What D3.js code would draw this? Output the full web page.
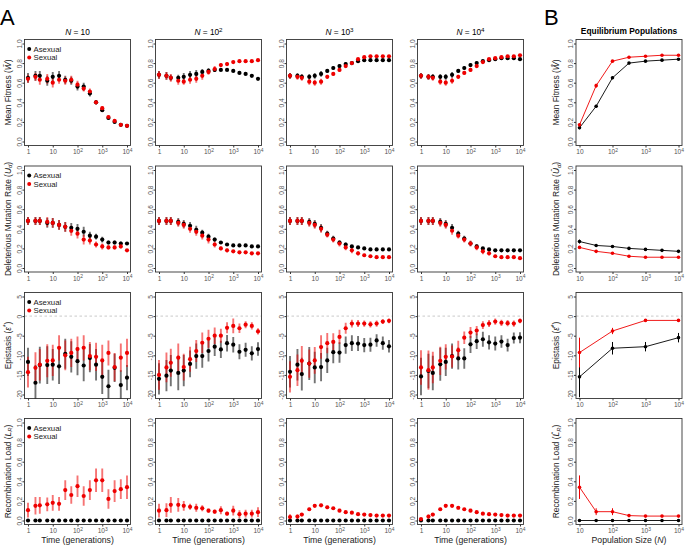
<!DOCTYPE html>
<html><head><meta charset="utf-8">
<script src="https://cdn.jsdelivr.net/npm/d3@7"></script>
<style>body{margin:0;background:#fff}svg{display:block}text{font-family:"Liberation Sans",Arial,Helvetica,sans-serif}</style>
</head><body><svg id="c" width="687" height="546"></svg>
<script>
// ---------- DATA ----------
const times = [1,2,3,6,10,18,32,56,100,178,316,562,1000,1778,3162,5623,10000];
const popSizes = [10,32,100,316,1000,3162,10000];
const popSizesEpi = [10,100,1000,10000];
const panelTitles = ["10","10^2","10^3","10^4"];
const timeTicks = [1,10,100,1000,10000];
const popTicks = [10,100,1000,10000];
const unitTicks = [0,0.2,0.4,0.6,0.8,1.0];
const epiTicks = [-20,-15,-10,-5,0,5];

// Mean fitness
const fitAsexual = [
 [0.65,0.67,0.67,0.62,0.66,0.67,0.63,0.62,0.56,0.56,0.49,0.40,0.32,0.24,0.20,0.17,0.16],
 [0.68,0.67,0.65,0.65,0.66,0.68,0.69,0.71,0.72,0.73,0.73,0.73,0.72,0.70,0.69,0.67,0.64],
 [0.67,0.67,0.66,0.66,0.67,0.69,0.72,0.75,0.77,0.79,0.80,0.82,0.83,0.83,0.83,0.83,0.83],
 [0.67,0.66,0.66,0.66,0.66,0.68,0.72,0.75,0.78,0.80,0.82,0.83,0.84,0.85,0.85,0.85,0.84]];
const fitSexual = [
 [0.64,0.66,0.63,0.64,0.60,0.63,0.62,0.63,0.58,0.54,0.51,0.40,0.34,0.25,0.21,0.17,0.16],
 [0.68,0.67,0.65,0.62,0.61,0.63,0.64,0.67,0.71,0.74,0.78,0.79,0.81,0.82,0.82,0.82,0.83],
 [0.67,0.66,0.65,0.61,0.60,0.61,0.66,0.69,0.73,0.77,0.80,0.84,0.86,0.87,0.87,0.87,0.87],
 [0.67,0.66,0.65,0.61,0.60,0.62,0.66,0.70,0.73,0.77,0.81,0.84,0.85,0.86,0.87,0.87,0.88]];
const fitAsexualErr = [
 [0.05,0.05,0.05,0.05,0.05,0.05,0.04,0.04,0.04,0.04,0.03,0.02,0.02,0.02,0.015,0.01,0.01],
 [0.04,0.04,0.03,0.03,0.04,0.04,0.04,0.03,0.03,0.02,0.01,0.01,0.01,0.01,0.01,0.01,0.01],
 [0.03,0.03,0.03,0.03,0.03,0.03,0.02,0.02,0.02,0.02,0.015,0.01,0.01,0.01,0.01,0.01,0.01],
 [0.03,0.03,0.03,0.03,0.03,0.03,0.02,0.02,0.02,0.02,0.015,0.01,0.01,0.01,0.01,0.01,0.01]];
const fitSexualErr = [
 [0.04,0.04,0.05,0.05,0.05,0.04,0.04,0.04,0.04,0.03,0.03,0.02,0.02,0.02,0.015,0.01,0.01],
 [0.04,0.04,0.04,0.04,0.03,0.04,0.04,0.04,0.03,0.03,0.02,0.02,0.01,0.01,0.01,0.01,0.01],
 [0.03,0.03,0.03,0.03,0.03,0.03,0.02,0.02,0.02,0.02,0.015,0.01,0.01,0.01,0.01,0.01,0.01],
 [0.03,0.03,0.03,0.03,0.03,0.03,0.02,0.02,0.02,0.02,0.015,0.01,0.01,0.01,0.01,0.01,0.01]];

// Deleterious mutation rate
const mutAsexual = [
 [0.48,0.48,0.48,0.46,0.46,0.44,0.42,0.41,0.40,0.37,0.33,0.32,0.29,0.26,0.26,0.25,0.25],
 [0.48,0.48,0.48,0.47,0.45,0.43,0.39,0.36,0.32,0.29,0.26,0.24,0.23,0.23,0.23,0.22,0.22],
 [0.48,0.48,0.48,0.47,0.45,0.41,0.35,0.30,0.26,0.24,0.22,0.21,0.20,0.19,0.19,0.19,0.19],
 [0.48,0.48,0.48,0.47,0.45,0.41,0.35,0.30,0.25,0.22,0.20,0.19,0.18,0.18,0.18,0.18,0.18]];
const mutSexual = [
 [0.48,0.48,0.48,0.47,0.46,0.44,0.42,0.38,0.35,0.29,0.28,0.24,0.22,0.21,0.21,0.22,0.18],
 [0.48,0.48,0.48,0.46,0.44,0.40,0.37,0.33,0.29,0.24,0.20,0.18,0.17,0.16,0.16,0.15,0.15],
 [0.48,0.48,0.48,0.46,0.44,0.40,0.34,0.29,0.25,0.21,0.18,0.15,0.13,0.12,0.11,0.11,0.11],
 [0.48,0.48,0.48,0.46,0.44,0.38,0.33,0.29,0.25,0.21,0.17,0.15,0.12,0.11,0.11,0.11,0.10]];
const mutAsexualErr = [
 [0.04,0.04,0.04,0.05,0.05,0.05,0.05,0.05,0.05,0.05,0.04,0.03,0.03,0.02,0.02,0.02,0.01],
 [0.04,0.04,0.04,0.04,0.04,0.04,0.04,0.03,0.03,0.02,0.015,0.01,0.01,0.01,0.01,0.01,0.01],
 [0.04,0.04,0.04,0.04,0.04,0.04,0.03,0.03,0.02,0.02,0.015,0.01,0.01,0.01,0.01,0.01,0.01],
 [0.04,0.04,0.04,0.04,0.04,0.04,0.03,0.03,0.02,0.02,0.015,0.01,0.01,0.01,0.01,0.01,0.01]];
const mutSexualErr = [
 [0.04,0.04,0.04,0.05,0.05,0.05,0.05,0.05,0.05,0.05,0.04,0.03,0.03,0.02,0.02,0.02,0.01],
 [0.04,0.04,0.04,0.04,0.04,0.04,0.04,0.04,0.04,0.03,0.02,0.02,0.01,0.01,0.01,0.01,0.01],
 [0.04,0.04,0.04,0.04,0.04,0.04,0.03,0.03,0.03,0.03,0.03,0.02,0.015,0.01,0.01,0.01,0.01],
 [0.04,0.04,0.04,0.04,0.04,0.04,0.03,0.03,0.03,0.03,0.03,0.02,0.015,0.01,0.01,0.01,0.01]];

// Epistasis
const epiAsexual = [
 [-11.7,-17.0,-12.5,-12.5,-12.4,-12.8,-9.6,-10.4,-11.5,-12.6,-10.7,-12.4,-15.5,-17.9,-13.2,-17.6,-15.7],
 [-16.0,-15.2,-13.9,-14.5,-13.9,-12.2,-10.2,-10.2,-8.9,-7.8,-8.5,-6.9,-7.3,-9.1,-8.6,-9.5,-8.4],
 [-14.2,-12.4,-14.8,-12.1,-13.1,-13.0,-11.3,-9.2,-9.3,-7.4,-6.9,-7.0,-7.4,-7.3,-6.2,-6.9,-7.7],
 [-15.4,-14.0,-14.5,-12.3,-11.7,-10.2,-10.8,-10.8,-7.2,-6.4,-5.9,-6.7,-7.0,-6.5,-7.4,-5.6,-5.5]];
const epiSexual = [
 [-14.3,-13.2,-12.4,-11.4,-11.3,-8.1,-10.0,-9.4,-8.4,-8.1,-10.2,-10.4,-11.3,-9.4,-13.0,-10.6,-9.4],
 [-15.0,-13.1,-11.9,-10.6,-13.0,-11.0,-8.9,-6.8,-5.8,-5.0,-5.0,-3.0,-2.5,-3.1,-2.2,-2.5,-3.9],
 [-15.5,-13.8,-11.4,-12.1,-11.3,-7.9,-6.9,-6.6,-5.3,-3.1,-1.9,-1.9,-1.9,-2.1,-1.9,-1.4,-1.2],
 [-13.1,-13.8,-13.1,-11.4,-10.4,-10.3,-8.7,-5.5,-4.2,-3.7,-2.3,-1.9,-1.4,-1.7,-1.8,-1.9,-1.2]];
const epiAsexualErr = [
 [3.6,4.5,4.7,4.8,4.0,4.5,3.8,4.0,3.6,4.0,3.6,4.0,4.4,4.2,3.6,3.8,3.2],
 [4.0,4.0,4.0,4.4,4.0,3.4,3.2,3.0,2.7,2.4,2.2,2.1,2.0,1.9,1.8,1.8,1.7],
 [4.0,4.0,4.2,4.2,4.0,3.6,3.2,2.8,2.6,2.2,2.0,1.9,1.8,1.8,1.6,1.7,1.6],
 [4.8,4.4,4.4,4.2,3.6,3.2,2.8,2.6,2.2,2.0,1.9,1.8,1.8,1.6,1.6,1.4,1.4]];
const epiSexualErr = [
 [3.9,4.0,4.0,4.2,4.0,3.2,3.8,3.6,3.2,3.2,3.6,3.6,4.0,3.2,3.6,3.6,3.6],
 [3.8,3.8,3.6,3.6,3.4,3.2,2.8,2.6,2.3,2.1,1.8,1.4,1.9,1.2,0.9,0.9,0.8],
 [4.0,4.0,3.8,3.6,3.4,3.0,2.6,2.2,1.8,1.4,1.0,0.9,0.8,0.8,0.8,0.6,0.6],
 [4.4,5.0,4.0,3.6,3.2,2.8,2.4,1.6,1.4,1.2,1.0,0.9,0.8,0.8,0.8,0.8,0.6]];

// Recombination load
const recAsexual = [
 [0,0,0,0,0,0,0,0,0,0,0,0,0,0,0,0,0],
 [0,0,0,0,0,0,0,0,0,0,0,0,0,0,0,0,0],
 [0,0,0,0,0,0,0,0,0,0,0,0,0,0,0,0,0],
 [0,0,0,0,0,0,0,0,0,0,0,0,0,0,0,0,0]];
const recSexual = [
 [0.105,0.15,0.155,0.165,0.18,0.17,0.31,0.26,0.35,0.25,0.31,0.41,0.41,0.22,0.30,0.32,0.34],
 [0.10,0.105,0.16,0.16,0.15,0.14,0.13,0.125,0.10,0.09,0.105,0.07,0.10,0.065,0.07,0.07,0.085],
 [0.035,0.04,0.06,0.115,0.15,0.155,0.135,0.125,0.10,0.085,0.08,0.065,0.06,0.055,0.05,0.05,0.05],
 [0.015,0.04,0.06,0.115,0.15,0.15,0.13,0.115,0.10,0.085,0.07,0.065,0.06,0.055,0.05,0.05,0.05]];
const recSexualErr = [
 [0.075,0.09,0.085,0.07,0.08,0.07,0.10,0.09,0.11,0.10,0.10,0.12,0.12,0.10,0.11,0.10,0.12],
 [0.07,0.07,0.08,0.07,0.05,0.03,0.04,0.03,0.02,0.02,0.04,0.02,0.05,0.04,0.04,0.04,0.05],
 [0.03,0.02,0.015,0.015,0.015,0.015,0.015,0.01,0.01,0.01,0.01,0.01,0.01,0.01,0.01,0.01,0.01],
 [0.01,0.02,0.015,0.015,0.015,0.015,0.015,0.01,0.01,0.01,0.01,0.01,0.01,0.01,0.01,0.01,0.01]];

// Equilibrium populations (panel B)
const eqFitAsexual = [0.14,0.36,0.65,0.80,0.82,0.83,0.84];
const eqFitSexual  = [0.17,0.57,0.82,0.86,0.87,0.88,0.88];
const eqFitAsexualErr = [0.015,0.015,0.015,0.01,0.01,0.01,0.01];
const eqFitSexualErr  = [0.015,0.02,0.01,0.01,0.01,0.01,0.01];
const eqMutAsexual = [0.27,0.23,0.22,0.20,0.19,0.18,0.17];
const eqMutSexual  = [0.21,0.17,0.15,0.12,0.11,0.11,0.11];
const eqMutAsexualErr = [0.02,0.01,0.01,0.01,0.01,0.01,0.01];
const eqMutSexualErr  = [0.01,0.01,0.01,0.01,0.01,0.01,0.01];
const eqEpiAsexual = [-15.5,-8.2,-7.8,-5.5];
const eqEpiSexual  = [-9.3,-3.8,-1.1,-1.1];
const eqEpiAsexualErr = [5.2,1.6,1.2,1.2];
const eqEpiSexualErr  = [3.8,0.8,0.3,0.3];
const eqRecAsexual = [0,0,0,0,0,0,0];
const eqRecSexual  = [0.34,0.09,0.09,0.05,0.045,0.045,0.045];
const eqRecAsexualErr = [0,0,0,0,0,0,0];
const eqRecSexualErr  = [0.12,0.035,0.035,0.01,0.01,0.01,0.01];

// ---------- LAYOUT ----------
const svg = d3.select("#c");
const colLeft = [28,159,290,421,579.5], pw = 99;
const rowTop = [43.5,170,296.5,422.5], ph = 98;
const padX = 3.5, padY = 4;
const RED = "#ee0000";
const FONT_TICK = 6.6;

function addSup(sel, base, sup){
  sel.text(null);
  sel.append("tspan").text(base);
  if(sup) sel.append("tspan").attr("dy","-0.45em").attr("font-size","75%").text(sup);
}
function fmtPow(v){ const e=Math.round(Math.log10(v)); return e===0?["1",null]:e===1?["10",null]:["10",String(e)]; }

const rows = [
 {domain:[0,1], ticks:unitTicks, fmt:d=>d.toFixed(1),
  A:fitAsexual,S:fitSexual,AE:fitAsexualErr,SE:fitSexualErr,
  eA:eqFitAsexual,eS:eqFitSexual,eAE:eqFitAsexualErr,eSE:eqFitSexualErr,eX:popSizes},
 {domain:[0,1], ticks:unitTicks, fmt:d=>d.toFixed(1),
  A:mutAsexual,S:mutSexual,AE:mutAsexualErr,SE:mutSexualErr,
  eA:eqMutAsexual,eS:eqMutSexual,eAE:eqMutAsexualErr,eSE:eqMutSexualErr,eX:popSizes},
 {domain:[-20,5], ticks:epiTicks, fmt:d=>String(d), zero:true,
  A:epiAsexual,S:epiSexual,AE:epiAsexualErr,SE:epiSexualErr,
  eA:eqEpiAsexual,eS:eqEpiSexual,eAE:eqEpiAsexualErr,eSE:eqEpiSexualErr,eX:popSizesEpi},
 {domain:[0,1], ticks:unitTicks, fmt:d=>d.toFixed(1),
  A:recAsexual,S:recSexual,AE:recAsexual,SE:recSexualErr,
  eA:eqRecAsexual,eS:eqRecSexual,eAE:eqRecAsexualErr,eSE:eqRecSexualErr,eX:popSizes}
];

let clipId=0;
function drawPanel(r,c){
  const R = rows[r];
  const eq = c===4;
  const x0 = colLeft[c], y0 = rowTop[r];
  const x = d3.scaleLog().domain(eq?[10,10000]:[1,10000]).range([x0,x0+pw]);
  const y = d3.scaleLinear().domain(R.domain).range([y0+ph,y0]);
  const bx0=x0-padX, bx1=x0+pw+padX, by0=y0-padY, by1=y0+ph+padY;
  const g = svg.append("g");
  const id="clip"+(clipId++);
  g.append("clipPath").attr("id",id).append("rect").attr("x",bx0).attr("y",by0).attr("width",bx1-bx0).attr("height",by1-by0);

  if(R.zero){
    g.append("line").attr("x1",bx0).attr("x2",bx1).attr("y1",y(0)).attr("y2",y(0))
      .attr("stroke","#bbb").attr("stroke-width",0.8).attr("stroke-dasharray","2.5,2.5");
  }
  // axes
  const ya = d3.axisLeft(y).tickValues(R.ticks).tickSize(2).tickFormat(R.fmt);
  const yg = g.append("g").attr("transform",`translate(${bx0},0)`).call(ya);
  yg.select(".domain").remove();
  yg.selectAll(".tick line").attr("stroke","#333");
  yg.selectAll(".tick text").attr("x",null).attr("dy",null)
    .attr("transform","translate(-3,0) rotate(-90)").attr("text-anchor","middle")
    .attr("font-size",FONT_TICK).attr("fill","#555").attr("font-family",null);
  const xa = d3.axisBottom(x).tickValues(eq?popTicks:timeTicks).tickSize(2).tickFormat(()=>"");
  const xg = g.append("g").attr("transform",`translate(0,${by1})`).call(xa);
  xg.select(".domain").remove();
  xg.selectAll(".tick line").attr("stroke","#333");
  xg.selectAll(".tick text").attr("y",8.5).attr("dy",null).attr("font-size",FONT_TICK)
    .attr("fill","#555").attr("font-family",null)
    .each(function(d){ const f=fmtPow(d); addSup(d3.select(this),f[0],f[1]); });
  g.append("rect").attr("x",bx0).attr("y",by0).attr("width",bx1-bx0).attr("height",by1-by0)
    .attr("fill","none").attr("stroke","#333").attr("stroke-width",0.9);

  const pg = g.append("g").attr("clip-path",`url(#${id})`);
  if(!eq){
    const series=[[R.A[c],R.AE[c],"#000"],[R.S[c],R.SE[c],RED]];
    series.forEach(([vals,errs,col])=>{
      pg.selectAll(null).data(times).enter().append("line")
        .attr("x1",t=>x(t)).attr("x2",t=>x(t))
        .attr("y1",(t,i)=>y(vals[i]-errs[i])).attr("y2",(t,i)=>y(vals[i]+errs[i]))
        .attr("stroke",col).attr("stroke-opacity",0.55).attr("stroke-width",1.9);
    });
    series.forEach(([vals,errs,col])=>{
      pg.selectAll(null).data(times).enter().append("circle")
        .attr("cx",t=>x(t)).attr("cy",(t,i)=>y(vals[i])).attr("r",2.1).attr("fill",col);
    });
  } else {
    const xs=R.eX;
    const series=[[R.eA,R.eAE,"#000"],[R.eS,R.eSE,RED]];
    series.forEach(([vals,errs,col])=>{
      pg.append("path").datum(xs).attr("fill","none").attr("stroke",col).attr("stroke-width",0.9)
        .attr("d",d3.line().x(v=>x(v)).y((v,i)=>y(vals[i])));
      pg.selectAll(null).data(xs).enter().append("line")
        .attr("x1",v=>x(v)).attr("x2",v=>x(v))
        .attr("y1",(v,i)=>y(vals[i]-errs[i])).attr("y2",(v,i)=>y(vals[i]+errs[i]))
        .attr("stroke",col).attr("stroke-width",1);
      pg.selectAll(null).data(xs).enter().append("circle")
        .attr("cx",v=>x(v)).attr("cy",(v,i)=>y(vals[i])).attr("r",1.8).attr("fill",col);
    });
  }
  // legend
  if(c===0){
    [["Asexual","#000"],["Sexual",RED]].forEach(([lab,col],k)=>{
      const ly = y0+5.5+k*8.6;
      g.append("circle").attr("cx",x0+1.2).attr("cy",ly).attr("r",2).attr("fill",col);
      g.append("text").attr("x",x0+5.5).attr("y",ly+2.8).attr("font-size",7.8).attr("fill","#222").text(lab);
    });
  }
}
for(let r=0;r<4;r++) for(let c=0;c<5;c++) drawPanel(r,c);

// panel letters & titles
svg.append("text").attr("x",0).attr("y",25).attr("font-size",22).text("A");
svg.append("text").attr("x",544).attr("y",25).attr("font-size",22).text("B");
panelTitles.forEach((t,c)=>{
  const tx = svg.append("text").attr("x",colLeft[c]+pw/2).attr("y",35).attr("text-anchor","middle").attr("font-size",8.3);
  tx.append("tspan").attr("font-style","italic").text("N");
  const parts=t.split("^");
  tx.append("tspan").text(" = "+parts[0]);
  if(parts[1]) tx.append("tspan").attr("dy","-0.45em").attr("font-size","75%").text(parts[1]);
});
svg.append("text").attr("x",colLeft[4]+pw/2).attr("y",33.5).attr("text-anchor","middle")
  .attr("font-size",8.4).attr("font-weight","bold").text("Equilibrium Populations");

// y labels
const yLabels = [
  {pre:"Mean Fitness (", sym:"W", acc:"\u0304", sub:null, sup:null},
  {pre:"Deleterious Mutation Rate (", sym:"U", acc:"", sub:"d", sup:null},
  {pre:"Epistasis (", sym:"\u03b5", acc:"", sub:null, sup:"*"},
  {pre:"Recombination Load (", sym:"L", acc:"", sub:"R", sup:null}
];
function yLabel(r, xpos, hat){
  const L=yLabels[r];
  const t = svg.append("text").attr("transform",`translate(${xpos},${rowTop[r]+ph/2}) rotate(-90)`)
    .attr("text-anchor","middle").attr("font-size",8.4).attr("fill","#222");
  t.append("tspan").text(L.pre);
  t.append("tspan").attr("font-style","italic").text(L.sym+(hat?"\u0302":"")+L.acc);
  if(L.sub){ t.append("tspan").attr("font-style","italic").attr("font-size","70%").attr("dy","0.3em").text(L.sub);
             t.append("tspan").attr("dy","-0.2em").text(")"); }
  else if(L.sup){ t.append("tspan").attr("font-size","75%").attr("dy","-0.4em").text(L.sup);
             t.append("tspan").attr("dy","0.3em").text(")"); }
  else t.append("tspan").text(")");
}
for(let r=0;r<4;r++){ yLabel(r,10.5,false); yLabel(r,559,true); }

// x labels
for(let c=0;c<4;c++){
  svg.append("text").attr("x",colLeft[c]+pw/2).attr("y",542.5).attr("text-anchor","middle")
    .attr("font-size",8.7).attr("fill","#222").text("Time (generations)");
}
const px = svg.append("text").attr("x",colLeft[4]+pw/2).attr("y",542.5).attr("text-anchor","middle")
  .attr("font-size",8.7).attr("fill","#222");
px.append("tspan").text("Population Size (");
px.append("tspan").attr("font-style","italic").text("N");
px.append("tspan").text(")");
</script></body></html>
